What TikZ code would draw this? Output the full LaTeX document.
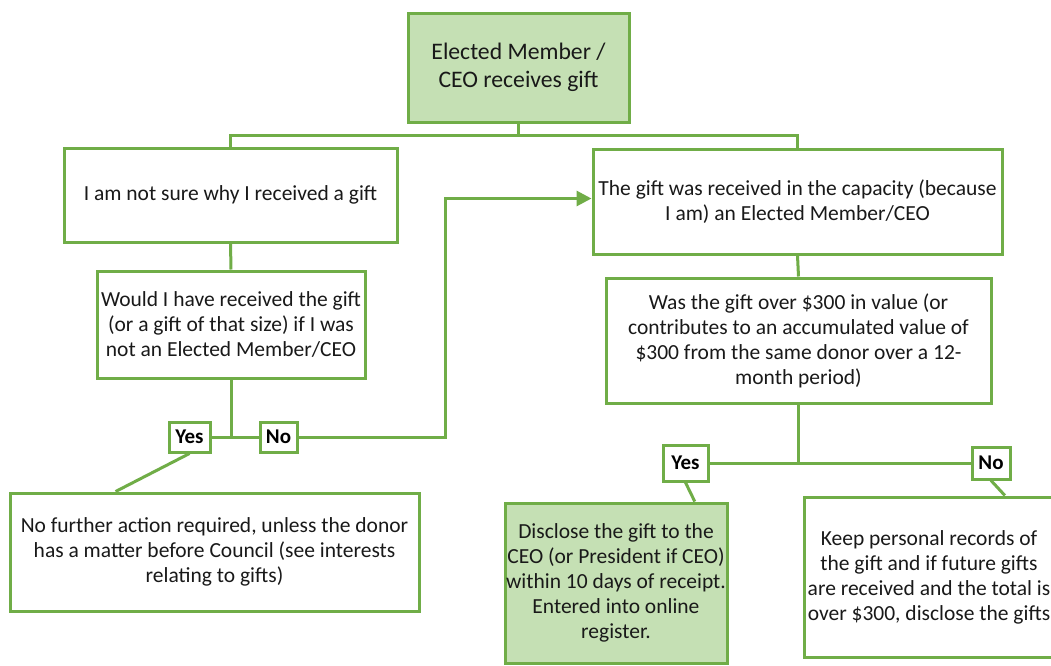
\documentclass[tikz,border=0pt]{standalone}
\usepackage{fontspec}
\setmainfont{Carlito}
\usetikzlibrary{arrows.meta,calc}
\definecolor{gline}{HTML}{70AD47}
\definecolor{gfill}{HTML}{C5E0B4}
\tikzset{
  box/.style={draw=gline, line width=3pt, fill=white, align=center, inner sep=0pt,
    font=\fontsize{21.5}{25}\selectfont, text=black!90},
  greenbox/.style={box, fill=gfill},
  lab/.style={draw=gline, line width=3pt, fill=white, inner sep=0pt,
    font=\fontsize{21}{24}\selectfont\bfseries},
  conn/.style={draw=gline, line width=3pt},
}
\begin{document}
\begin{tikzpicture}[x=1pt,y=-1pt]
\clip (0,0) rectangle (1051,665);
\fill[white] (0,0) rectangle (1051,665);
\node[greenbox, minimum width=221, minimum height=109, font=\fontsize{23.7}{27.5}\selectfont] (top) at (518.5,67.5) {Elected Member /\\CEO receives gift};
\node[box, minimum width=333, minimum height=94] (notsure) at (230.5,195) {I am not sure why I received a gift};
\node[box, minimum width=268, minimum height=107] (would) at (231,324.5) {Would I have received the gift\\(or a gift of that size) if I was\\not an Elected Member/CEO};
\node[lab, minimum width=41, minimum height=30] (yes1) at (189.5,437) {Yes};
\node[lab, minimum width=37, minimum height=30] (no1) at (278.5,437) {No};
\node[box, minimum width=409, minimum height=118] (noaction) at (214.5,552) {No further action required, unless the donor\\has a matter before Council (see interests\\relating to gifts)};
\node[box, minimum width=409, minimum height=105] (capacity) at (797.5,201.5) {The gift was received in the capacity (because\\I am) an Elected Member/CEO};
\node[box, minimum width=385, minimum height=125] (was) at (798.5,340.5) {Was the gift over \$300 in value (or\\contributes to an accumulated value of\\\$300 from the same donor over a 12-\\month period)};
\node[lab, minimum width=45, minimum height=36] (yes2) at (685.5,463) {Yes};
\node[lab, minimum width=38, minimum height=32] (no2) at (991,463) {No};
\node[greenbox, minimum width=222, minimum height=160] (disclose) at (616,583) {Disclose the gift to the\\CEO (or President if CEO)\\within 10 days of receipt.\\Entered into online\\register.};
\node[box, minimum width=250, minimum height=160] (keep) at (929,577) {Keep personal records of\\the gift and if future gifts\\are received and the total is\\over \$300, disclose the gifts};
\coordinate (j1) at (518.5,135);
\coordinate (bend) at (445,437);
\coordinate (arr) at ([yshift=3pt]capacity.west);
\draw[conn] (top.south) -- (j1);
\draw[conn] (notsure.north) |- (j1) -| (capacity.north);
\draw[conn] (notsure.south) -- (would.north);
\draw[conn] (would.south) -- (would.south |- yes1.east);
\draw[conn] (yes1.east) -- (no1.west);
\draw[conn, -{Triangle[length=15pt,width=15pt]}] (no1.east) -- (bend) |- (arr);
\draw[conn] (yes1.south) -- ($(noaction.north west)!0.26!(noaction.north east)$);
\draw[conn] (capacity.south) -- (was.north);
\draw[conn] (was.south) -- (was.south |- yes2.east);
\draw[conn] (yes2.east) -- (no2.west);
\draw[conn] (yes2.south) -- ($(disclose.north west)!0.85!(disclose.north east)$);
\draw[conn] (no2.south) -- ($(keep.north west)!0.8!(keep.north east)$);
\end{tikzpicture}
\end{document}
